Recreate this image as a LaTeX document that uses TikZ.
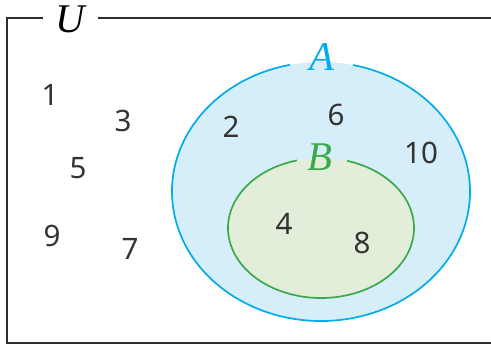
\documentclass[tikz,border=0pt]{standalone}
\usepackage{fontspec}
\newfontfamily\digitfont{Noto Sans}
\newfontfamily\namefont{Liberation Serif}
\definecolor{setA}{RGB}{0,172,236}
\definecolor{setAfill}{RGB}{214,237,250}
\definecolor{setB}{RGB}{58,170,72}
\definecolor{setBfill}{RGB}{226,237,218}
\definecolor{frame}{RGB}{45,45,45}
\tikzset{
  elem/.style={font=\digitfont\fontsize{21}{21}\selectfont, text=black!80},
  setname/.style={font=\namefont\itshape\fontsize{29}{29}\selectfont}
}

\begin{document}
\begin{tikzpicture}[x=0.025cm, y=0.025cm]
  \useasboundingbox (0,0) rectangle (491,345);
  % universe
  \node[setname] (U) at (70,326) {U};
  \draw[frame, line width=1.4pt] (43,327) -- (7,327) -- (7,2) -- (500,2);
  \draw[frame, line width=1.4pt] (98,327) -- (500,327);
  % set A
  \fill[setAfill] (321,153.5) ellipse [x radius=149, y radius=129.5];
  \draw[setA, line width=1.2pt] (321,153.5) ++(102:149 and 129.5)
    arc[start angle=102, end angle=437.6, x radius=149, y radius=129.5];
  \node[setname, text=setA] (A) at (322,288) {A};
  % set B
  \fill[setBfill] (321,117) ellipse [x radius=93, y radius=70];
  \draw[setB, line width=1.2pt] (321,117) ++(105:93 and 70)
    arc[start angle=105, end angle=433.7, x radius=93, y radius=70];
  \node[setname, text=setB] (B) at (320,188) {B};
  % elements
  \foreach \n/\x/\y in {1/50/250, 3/123/224, 5/78/177, 9/52/109, 7/130/96,
                        2/231/218, 6/336/230, 10/421/192, 4/284/121, 8/362/102}
    \node[elem] (e\n) at (\x,\y) {\n};
\end{tikzpicture}
\end{document}
